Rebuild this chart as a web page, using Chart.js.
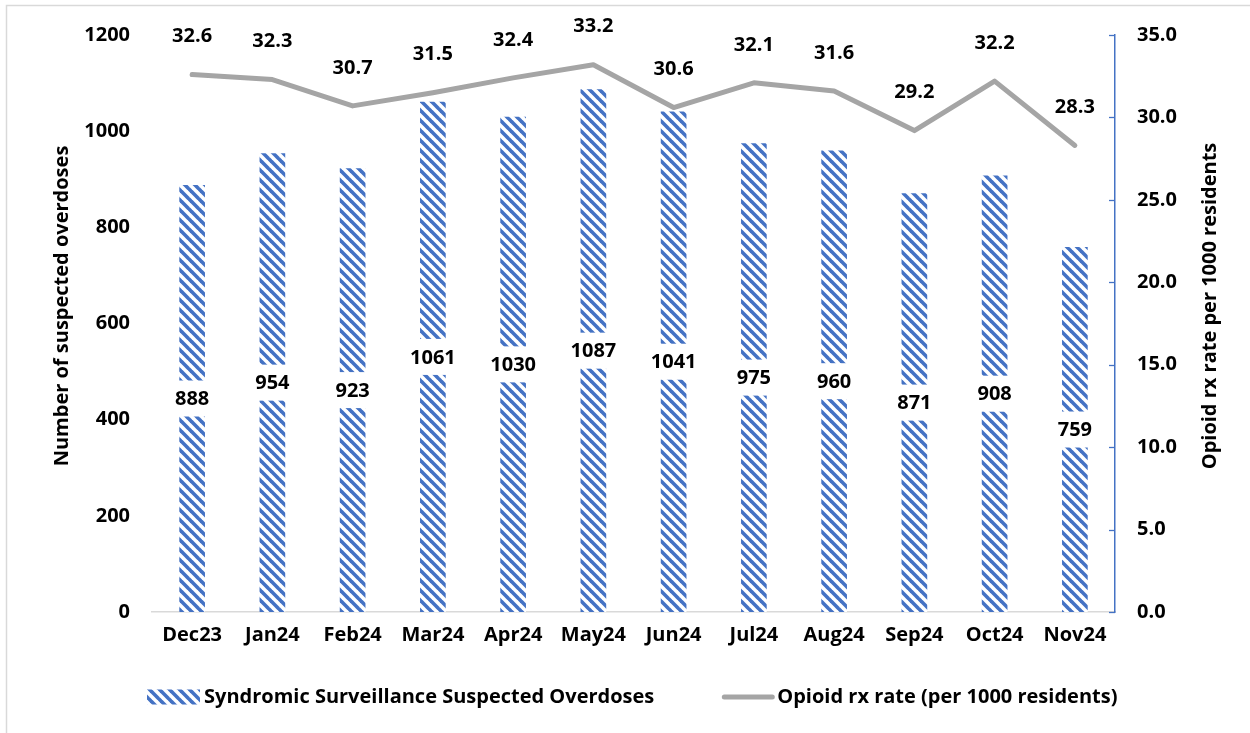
<!DOCTYPE html>
<html>
<head>
<meta charset="utf-8">
<style>
  html, body { margin: 0; padding: 0; background: #fff; }
  #wrap { position: relative; width: 1250px; height: 733px; }
</style>
<script src="https://cdn.jsdelivr.net/npm/chart.js@4"></script>
</head>
<body>
<div id="wrap"><canvas id="c" width="1250" height="733"></canvas></div>
<script>
const categories = ['Dec23','Jan24','Feb24','Mar24','Apr24','May24','Jun24','Jul24','Aug24','Sep24','Oct24','Nov24'];
const overdoses = [888, 954, 923, 1061, 1030, 1087, 1041, 975, 960, 871, 908, 759];
const rxRate = [32.6, 32.3, 30.7, 31.5, 32.4, 33.2, 30.6, 32.1, 31.6, 29.2, 32.2, 28.3];
const leftTicks = [0, 200, 400, 600, 800, 1000, 1200];
const rightTicks = [0, 5, 10, 15, 20, 25, 30, 35];
const barLabel = 'Syndromic Surveillance Suspected Overdoses';
const lineLabel = 'Opioid rx rate (per 1000 residents)';
const leftTitle = 'Number of suspected overdoses';
const rightTitle = 'Opioid rx rate per 1000 residents';

const FONT = '"Open Sans", Lato, sans-serif';
const FS = 20;
const BLUE = '#4472C4';
const GRAY = '#A5A5A5';

function makePattern() {
  const s = 10;
  const t = document.createElement('canvas');
  t.width = s; t.height = s;
  const g = t.getContext('2d');
  g.fillStyle = '#fff';
  g.fillRect(0, 0, s, s);
  g.strokeStyle = BLUE;
  g.lineWidth = 3.6;
  for (let k = -1; k <= 1; k++) {
    g.beginPath();
    g.moveTo(k * s - 1, -1);
    g.lineTo(k * s + s + 1, s + 1);
    g.stroke();
  }
  const ctx = document.getElementById('c').getContext('2d');
  return ctx.createPattern(t, 'repeat');
}
const hatch = makePattern();

const decor = {
  id: 'decor',
  beforeDraw(chart) {
    const ctx = chart.ctx;
    ctx.save();
    ctx.fillStyle = '#fff';
    ctx.fillRect(0, 0, chart.width, chart.height);
    ctx.strokeStyle = '#D9D9D9';
    ctx.lineWidth = 1.5;
    ctx.beginPath();
    ctx.moveTo(6.5, chart.height);
    ctx.lineTo(6.5, 5.5);
    ctx.lineTo(chart.width, 5.5);
    ctx.stroke();
    ctx.restore();
  },
  afterDatasetsDraw(chart) {
    const ctx = chart.ctx;
    const ca = chart.chartArea;
    ctx.save();
    const y1 = chart.scales.y1;
    ctx.strokeStyle = BLUE;
    ctx.lineWidth = 1.3;
    rightTicks.forEach(v => {
      const py = Math.round(y1.getPixelForValue(v)) + 0.5;
      ctx.beginPath();
      ctx.moveTo(ca.right - 6, py);
      ctx.lineTo(ca.right, py);
      ctx.stroke();
    });
    ctx.font = '700 ' + FS + 'px ' + FONT;
    ctx.textAlign = 'center';
    ctx.textBaseline = 'middle';
    const bm = chart.getDatasetMeta(0);
    bm.data.forEach((el, i) => {
      const txt = String(overdoses[i]);
      const cy = (el.y + el.base) / 2;
      const w = ctx.measureText(txt).width + 6;
      ctx.fillStyle = '#fff';
      ctx.fillRect(el.x - w / 2, cy - 18, w, 36);
      ctx.fillStyle = '#000';
      ctx.fillText(txt, el.x, cy + 1);
    });
    const lm = chart.getDatasetMeta(1);
    lm.data.forEach((el, i) => {
      ctx.fillStyle = '#000';
      ctx.fillText(rxRate[i].toFixed(1), el.x, el.y - 38);
    });
    ctx.save();
    ctx.translate(62, 306);
    ctx.rotate(-Math.PI / 2);
    ctx.fillText(leftTitle, 0, 0);
    ctx.restore();
    ctx.save();
    ctx.translate(1210, 306);
    ctx.rotate(-Math.PI / 2);
    ctx.fillText(rightTitle, 0, 0);
    ctx.restore();
    const ly = 697;
    let x = 147;
    ctx.fillStyle = hatch;
    ctx.fillRect(x, ly - 7.5, 53, 15);
    ctx.fillStyle = '#000';
    ctx.textAlign = 'left';
    ctx.fillText(barLabel, x + 57, ly);
    x = x + 57 + ctx.measureText(barLabel).width + 70;
    ctx.strokeStyle = GRAY;
    ctx.lineWidth = 5;
    ctx.lineCap = 'round';
    ctx.beginPath();
    ctx.moveTo(x, ly);
    ctx.lineTo(x + 48, ly);
    ctx.stroke();
    ctx.fillText(lineLabel, x + 53, ly);
    ctx.restore();
  }
};

const tickFont = { family: FONT, size: FS, weight: '700' };

new Chart(document.getElementById('c'), {
  data: {
    labels: categories,
    datasets: [
      {
        type: 'bar',
        label: barLabel,
        data: overdoses,
        yAxisID: 'y',
        backgroundColor: hatch,
        borderWidth: 0,
        categoryPercentage: 1,
        barPercentage: 0.32,
        order: 2
      },
      {
        type: 'line',
        label: lineLabel,
        data: rxRate,
        yAxisID: 'y1',
        borderColor: GRAY,
        borderWidth: 5,
        borderCapStyle: 'round',
        borderJoinStyle: 'round',
        pointRadius: 0,
        tension: 0,
        fill: false,
        order: 1
      }
    ]
  },
  options: {
    responsive: false,
    animation: false,
    devicePixelRatio: 1,
    layout: { padding: { top: 35, left: 0, right: 0, bottom: 71 } },
    plugins: {
      legend: { display: false },
      tooltip: { enabled: false },
      title: { display: false }
    },
    scales: {
      x: {
        grid: { display: false, drawTicks: false },
        border: { display: true, color: '#D9D9D9', width: 1.5 },
        ticks: { color: '#000', font: tickFont, padding: 11, maxRotation: 0, autoSkip: false },
        afterFit(s) { s.height = 50; }
      },
      y: {
        position: 'left',
        min: 0, max: 1200,
        afterBuildTicks(s) { s.ticks = leftTicks.map(v => ({ value: v })); },
        grid: { display: false, drawTicks: false },
        border: { display: false },
        ticks: { color: '#000', font: tickFont, padding: 22, callback: (v) => String(v) },
        afterFit(s) { s.width = 152; }
      },
      y1: {
        position: 'right',
        min: 0, max: 35,
        afterBuildTicks(s) { s.ticks = rightTicks.map(v => ({ value: v })); },
        grid: { display: false, drawTicks: false },
        border: { display: true, color: BLUE, width: 1.5 },
        ticks: { color: '#000', font: tickFont, padding: 22,
                 callback: (v) => Number(v).toFixed(1) },
        afterFit(s) { s.width = 135; }
      }
    }
  },
  plugins: [decor]
});
</script>
</body>
</html>
